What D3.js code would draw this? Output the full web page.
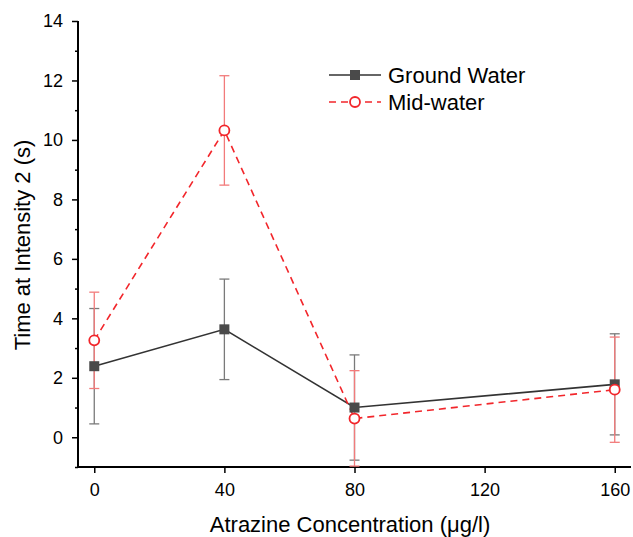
<!DOCTYPE html>
<html>
  <head>
    <style>
      body { margin: 0; background: #fff; overflow: hidden; }
      svg { display: block; }
      text { font-family: "Liberation Sans", Arial, sans-serif; }
    </style>
  </head>
  <body>
    <svg id="chart" width="633" height="537"></svg>
  </body>
  <script src="https://d3js.org/d3.v7.min.js"></script>
  <script type="text/javascript">
    // data
    var concentrations = [0, 40, 80, 160];
    var groundMean = [2.39, 3.63, 1.0, 1.78];
    var groundErr  = [1.94, 1.69, 1.77, 1.70];
    var midMean    = [3.26, 10.32, 0.63, 1.60];
    var midErr     = [1.62, 1.84, 1.61, 1.77];
    var xTicks = [0, 40, 80, 120, 160];
    var yTicks = [0, 2, 4, 6, 8, 10, 12, 14];
    var yMinor = [-1, 1, 3, 5, 7, 9, 11, 13];

    var svg = d3.select("#chart");
    var mLeft = 78, mRight = 631, mTop = 21, mBottom = 467;

    var x = d3.scaleLinear().domain([-5, 165]).range([mLeft, mRight]);
    var y = d3.scaleLinear().domain([-1, 14]).range([mBottom, mTop]);

    // axes
    var xAxis = svg.append("g")
      .attr("transform", "translate(0," + mBottom + ")")
      .call(d3.axisBottom(x).tickValues(xTicks).tickSize(6).tickPadding(10));
    var yAxis = svg.append("g")
      .attr("transform", "translate(" + mLeft + ",0)")
      .call(d3.axisLeft(y).tickValues(yTicks).tickSize(6).tickPadding(9));
    svg.append("g")
      .attr("transform", "translate(" + mLeft + ",0)")
      .call(d3.axisLeft(y).tickValues(yMinor).tickSize(3).tickFormat(""))
      .select(".domain").remove();

    [xAxis, yAxis].forEach(function(a) {
      a.attr("font-size", 18).attr("font-family", null);
      a.select(".domain").attr("stroke", "#000").attr("stroke-width", 2);
      a.selectAll(".tick text").attr("fill", "#000");
    });
    xAxis.select(".domain").attr("d", "M" + mLeft + ",0H" + mRight);
    yAxis.select(".domain").attr("d", "M0," + mBottom + "V" + mTop);
    svg.selectAll(".tick line").attr("stroke", "#000").attr("stroke-width", 1.5);

    // titles
    svg.append("text")
      .attr("x", 350).attr("y", 532)
      .attr("text-anchor", "middle")
      .attr("font-size", 22)
      .text("Atrazine Concentration (\u03bcg/l)");
    svg.append("text")
      .attr("transform", "translate(30,245) rotate(-90)")
      .attr("text-anchor", "middle")
      .attr("font-size", 22)
      .text("Time at Intensity 2 (s)");

    var plot = svg.append("g");

    function errorBars(means, errs, color) {
      var g = plot.append("g").attr("stroke", color).attr("stroke-width", 1.3);
      concentrations.forEach(function(c, i) {
        var lo = Math.max(means[i] - errs[i], -0.97);
        var hi = means[i] + errs[i];
        g.append("line").attr("x1", x(c)).attr("x2", x(c)).attr("y1", y(lo)).attr("y2", y(hi));
        g.append("line").attr("x1", x(c) - 5).attr("x2", x(c) + 5).attr("y1", y(hi)).attr("y2", y(hi));
        g.append("line").attr("x1", x(c) - 5).attr("x2", x(c) + 5).attr("y1", y(lo)).attr("y2", y(lo));
      });
    }

    errorBars(groundMean, groundErr, "#7a7a7a");
    errorBars(midMean, midErr, "#f27b7b");

    var line = d3.line()
      .x(function(d, i) { return x(concentrations[i]); })
      .y(function(d) { return y(d); });

    plot.append("path").datum(groundMean)
      .attr("d", line).attr("fill", "none")
      .attr("stroke", "#333").attr("stroke-width", 1.6);
    plot.append("path").datum(midMean)
      .attr("d", line).attr("fill", "none")
      .attr("stroke", "#f2262b").attr("stroke-width", 1.6)
      .attr("stroke-dasharray", "7,5");

    plot.selectAll(".sq").data(groundMean).enter().append("rect")
      .attr("x", function(d, i) { return x(concentrations[i]) - 5; })
      .attr("y", function(d) { return y(d) - 5; })
      .attr("width", 10).attr("height", 10)
      .attr("fill", "#4a4a4a");
    plot.selectAll(".ci").data(midMean).enter().append("circle")
      .attr("cx", function(d, i) { return x(concentrations[i]); })
      .attr("cy", function(d) { return y(d); })
      .attr("r", 5).attr("fill", "#fff")
      .attr("stroke", "#f2262b").attr("stroke-width", 1.8);

    // legend
    var legend = svg.append("g");
    legend.append("line").attr("x1", 329).attr("x2", 381).attr("y1", 75).attr("y2", 75)
      .attr("stroke", "#333").attr("stroke-width", 1.6);
    legend.append("rect").attr("x", 350).attr("y", 70).attr("width", 10).attr("height", 10)
      .attr("fill", "#4a4a4a");
    legend.append("text").attr("x", 388).attr("y", 83).attr("font-size", 22).text("Ground Water");
    legend.append("line").attr("x1", 329).attr("x2", 381).attr("y1", 102).attr("y2", 102)
      .attr("stroke", "#f2262b").attr("stroke-width", 1.6).attr("stroke-dasharray", "7,5");
    legend.append("circle").attr("cx", 355).attr("cy", 102).attr("r", 5)
      .attr("fill", "#fff").attr("stroke", "#f2262b").attr("stroke-width", 1.8);
    legend.append("text").attr("x", 388).attr("y", 110).attr("font-size", 22).text("Mid-water");
  </script>
</html>
